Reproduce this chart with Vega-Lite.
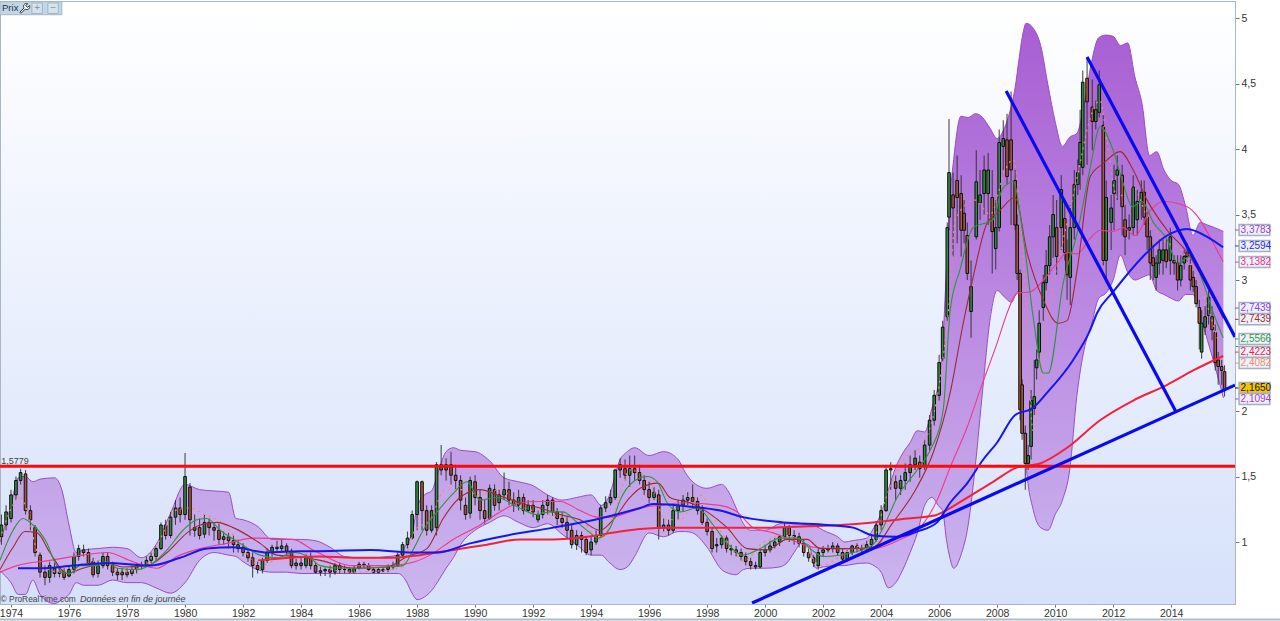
{"$schema":"https://vega.github.io/schema/vega-lite/v6.json","width":1235,"height":603,"autosize":"none","padding":{"left":0,"top":1,"right":45,"bottom":17},"background":"#ffffff","view":{"stroke":"#a9b6c4","strokeWidth":1,"fill":{"gradient":"linear","x1":0,"y1":0,"x2":0,"y2":1,"stops":[{"offset":0,"color":"#ffffff"},{"offset":1,"color":"#d6e1fa"}]}},
"datasets":{
"band":[{"t":1973.62,"up":1.0,"lo":0.78},{"t":1974,"up":1.28,"lo":0.69},{"t":1974.25,"up":1.49,"lo":0.60},{"t":1974.5,"up":1.50,"lo":0.60},{"t":1974.75,"up":1.46,"lo":0.71},{"t":1975,"up":1.48,"lo":0.60},{"t":1975.5,"up":1.49,"lo":0.53},{"t":1975.75,"up":1.40,"lo":0.56},{"t":1976,"up":1.13,"lo":0.60},{"t":1976.25,"up":0.92,"lo":0.69},{"t":1976.5,"up":0.94,"lo":0.67},{"t":1977,"up":0.95,"lo":0.67},{"t":1977.5,"up":0.96,"lo":0.71},{"t":1978,"up":0.95,"lo":0.69},{"t":1978.5,"up":0.88,"lo":0.69},{"t":1979,"up":0.98,"lo":0.65},{"t":1979.5,"up":1.22,"lo":0.61},{"t":1980,"up":1.44,"lo":0.69},{"t":1980.5,"up":1.40,"lo":0.86},{"t":1981,"up":1.39,"lo":0.92},{"t":1981.5,"up":1.38,"lo":0.90},{"t":1981.75,"up":1.18,"lo":0.89},{"t":1982,"up":1.17,"lo":0.85},{"t":1982.5,"up":1.12,"lo":0.79},{"t":1983,"up":1.02,"lo":0.77},{"t":1983.5,"up":1.02,"lo":0.77},{"t":1984,"up":1.02,"lo":0.76},{"t":1984.5,"up":1.01,"lo":0.76},{"t":1985,"up":0.96,"lo":0.76},{"t":1985.5,"up":0.89,"lo":0.76},{"t":1986,"up":0.88,"lo":0.76},{"t":1986.5,"up":0.88,"lo":0.76},{"t":1987,"up":0.89,"lo":0.76},{"t":1987.35,"up":0.90,"lo":0.76},{"t":1987.6,"up":0.97,"lo":0.71},{"t":1987.85,"up":1.09,"lo":0.60},{"t":1988,"up":1.26,"lo":0.56},{"t":1988.25,"up":1.36,"lo":0.58},{"t":1988.5,"up":1.39,"lo":0.63},{"t":1988.75,"up":1.55,"lo":0.71},{"t":1989,"up":1.69,"lo":0.80},{"t":1989.25,"up":1.72,"lo":0.88},{"t":1989.5,"up":1.70,"lo":0.98},{"t":1990,"up":1.69,"lo":1.09},{"t":1990.5,"up":1.62,"lo":1.15},{"t":1991,"up":1.49,"lo":1.20},{"t":1991.5,"up":1.46,"lo":1.15},{"t":1992,"up":1.43,"lo":1.11},{"t":1992.5,"up":1.36,"lo":1.14},{"t":1993,"up":1.32,"lo":1.06},{"t":1993.5,"up":1.34,"lo":0.98},{"t":1994,"up":1.36,"lo":0.90},{"t":1994.35,"up":1.28,"lo":0.90},{"t":1994.6,"up":1.34,"lo":0.85},{"t":1995,"up":1.63,"lo":0.79},{"t":1995.25,"up":1.69,"lo":0.81},{"t":1995.5,"up":1.72,"lo":0.89},{"t":1996,"up":1.66,"lo":1.07},{"t":1996.5,"up":1.69,"lo":1.04},{"t":1997,"up":1.63,"lo":1.08},{"t":1997.25,"up":1.53,"lo":1.08},{"t":1997.5,"up":1.46,"lo":1.07},{"t":1998,"up":1.41,"lo":0.96},{"t":1998.5,"up":1.44,"lo":0.79},{"t":1998.75,"up":1.38,"lo":0.76},{"t":1999,"up":1.26,"lo":0.75},{"t":1999.25,"up":1.14,"lo":0.79},{"t":1999.5,"up":1.09,"lo":0.80},{"t":2000,"up":1.09,"lo":0.80},{"t":2000.5,"up":1.14,"lo":0.81},{"t":2000.75,"up":1.15,"lo":0.84},{"t":2001,"up":1.15,"lo":0.92},{"t":2001.25,"up":1.14,"lo":0.99},{"t":2001.5,"up":1.13,"lo":0.98},{"t":2001.75,"up":1.12,"lo":0.80},{"t":2002,"up":1.09,"lo":0.81},{"t":2002.5,"up":1.04,"lo":0.82},{"t":2002.75,"up":1.00,"lo":0.82},{"t":2003,"up":1.01,"lo":0.83},{"t":2003.5,"up":1.03,"lo":0.84},{"t":2003.75,"up":1.11,"lo":0.82},{"t":2004,"up":1.22,"lo":0.77},{"t":2004.25,"up":1.40,"lo":0.65},{"t":2004.5,"up":1.57,"lo":0.69},{"t":2004.75,"up":1.68,"lo":0.79},{"t":2005,"up":1.76,"lo":0.92},{"t":2005.25,"up":1.85,"lo":1.07},{"t":2005.5,"up":1.84,"lo":1.28},{"t":2005.75,"up":2.02,"lo":1.34},{"t":2006,"up":2.25,"lo":1.27},{"t":2006.12,"up":2.50,"lo":1.24},{"t":2006.25,"up":3.08,"lo":1.02},{"t":2006.37,"up":3.61,"lo":0.88},{"t":2006.5,"up":3.92,"lo":0.80},{"t":2006.75,"up":4.25,"lo":0.90},{"t":2007,"up":4.24,"lo":1.13},{"t":2007.25,"up":4.27,"lo":1.59},{"t":2007.5,"up":4.24,"lo":2.16},{"t":2007.75,"up":4.16,"lo":2.69},{"t":2008,"up":4.08,"lo":2.92},{"t":2008.25,"up":4.16,"lo":2.87},{"t":2008.5,"up":4.34,"lo":2.83},{"t":2008.62,"up":4.47,"lo":2.88},{"t":2008.75,"up":4.68,"lo":2.92},{"t":2008.87,"up":4.86,"lo":2.08},{"t":2009,"up":4.96,"lo":1.59},{"t":2009.25,"up":4.92,"lo":1.24},{"t":2009.5,"up":4.79,"lo":1.11},{"t":2009.75,"up":4.49,"lo":1.09},{"t":2010,"up":4.21,"lo":1.21},{"t":2010.25,"up":4.02,"lo":1.32},{"t":2010.5,"up":4.09,"lo":1.55},{"t":2010.75,"up":4.12,"lo":2.12},{"t":2011,"up":4.34,"lo":2.47},{"t":2011.25,"up":4.66,"lo":2.66},{"t":2011.5,"up":4.85,"lo":2.86},{"t":2011.75,"up":4.87,"lo":2.90},{"t":2012,"up":4.86,"lo":3.00},{"t":2012.25,"up":4.79,"lo":3.19},{"t":2012.5,"up":4.81,"lo":3.06},{"t":2012.75,"up":4.55,"lo":3.00},{"t":2013,"up":4.34,"lo":3.02},{"t":2013.25,"up":3.95,"lo":3.04},{"t":2013.5,"up":3.98,"lo":2.92},{"t":2013.75,"up":3.84,"lo":2.89},{"t":2014,"up":3.76,"lo":2.86},{"t":2014.25,"up":3.73,"lo":2.84},{"t":2014.5,"up":3.56,"lo":2.89},{"t":2014.75,"up":3.34,"lo":2.89},{"t":2015,"up":3.44,"lo":2.73},{"t":2015.25,"up":3.42,"lo":2.54},{"t":2015.5,"up":3.40,"lo":2.35},{"t":2015.8,"up":3.37,"lo":2.10}],
"candles":[{"t":1973.67,"o":1.04,"c":1.13,"h":1.21,"l":0.98},{"t":1973.83,"o":1.13,"c":1.23,"h":1.28,"l":1.09},{"t":1974,"o":1.18,"c":1.36,"h":1.40,"l":1.15},{"t":1974.17,"o":1.36,"c":1.47,"h":1.50,"l":1.32},{"t":1974.33,"o":1.47,"c":1.53,"h":1.56,"l":1.44},{"t":1974.5,"o":1.52,"c":1.24,"h":1.55,"l":1.21},{"t":1974.67,"o":1.24,"c":1.17,"h":1.28,"l":1.09},{"t":1974.83,"o":1.11,"c":0.92,"h":1.13,"l":0.89},{"t":1975,"o":0.90,"c":0.77,"h":0.92,"l":0.73},{"t":1975.17,"o":0.77,"c":0.73,"h":0.82,"l":0.67},{"t":1975.33,"o":0.73,"c":0.82,"h":0.85,"l":0.69},{"t":1975.5,"o":0.80,"c":0.76,"h":0.84,"l":0.73},{"t":1975.67,"o":0.76,"c":0.77,"h":0.80,"l":0.73},{"t":1975.83,"o":0.77,"c":0.73,"h":0.80,"l":0.71},{"t":1976,"o":0.74,"c":0.79,"h":0.82,"l":0.73},{"t":1976.17,"o":0.79,"c":0.89,"h":0.92,"l":0.76},{"t":1976.33,"o":0.89,"c":0.95,"h":0.98,"l":0.86},{"t":1976.5,"o":0.94,"c":0.92,"h":0.98,"l":0.89},{"t":1976.67,"o":0.92,"c":0.84,"h":0.95,"l":0.82},{"t":1976.83,"o":0.85,"c":0.75,"h":0.88,"l":0.73},{"t":1977,"o":0.76,"c":0.82,"h":0.86,"l":0.73},{"t":1977.17,"o":0.82,"c":0.89,"h":0.92,"l":0.80},{"t":1977.33,"o":0.89,"c":0.82,"h":0.92,"l":0.79},{"t":1977.5,"o":0.82,"c":0.77,"h":0.85,"l":0.74},{"t":1977.67,"o":0.77,"c":0.75,"h":0.80,"l":0.71},{"t":1977.83,"o":0.75,"c":0.77,"h":0.80,"l":0.71},{"t":1978,"o":0.77,"c":0.75,"h":0.80,"l":0.73},{"t":1978.17,"o":0.76,"c":0.79,"h":0.82,"l":0.74},{"t":1978.33,"o":0.79,"c":0.82,"h":0.84,"l":0.76},{"t":1978.5,"o":0.82,"c":0.82,"h":0.85,"l":0.79},{"t":1978.67,"o":0.82,"c":0.86,"h":0.89,"l":0.81},{"t":1978.83,"o":0.86,"c":0.89,"h":0.92,"l":0.84},{"t":1979,"o":0.89,"c":0.95,"h":0.97,"l":0.86},{"t":1979.17,"o":0.95,"c":1.13,"h":1.15,"l":0.94},{"t":1979.33,"o":1.13,"c":1.05,"h":1.17,"l":1.02},{"t":1979.5,"o":1.05,"c":1.19,"h":1.23,"l":1.03},{"t":1979.67,"o":1.19,"c":1.26,"h":1.32,"l":1.13},{"t":1979.83,"o":1.26,"c":1.21,"h":1.34,"l":1.15},{"t":1980,"o":1.21,"c":1.50,"h":1.68,"l":1.17},{"t":1980.17,"o":1.42,"c":1.17,"h":1.45,"l":1.05},{"t":1980.33,"o":1.09,"c":1.11,"h":1.21,"l":1.04},{"t":1980.5,"o":1.11,"c":1.05,"h":1.18,"l":1.02},{"t":1980.67,"o":1.06,"c":1.15,"h":1.21,"l":1.03},{"t":1980.83,"o":1.15,"c":1.11,"h":1.18,"l":1.05},{"t":1981,"o":1.11,"c":1.09,"h":1.15,"l":1.01},{"t":1981.17,"o":1.09,"c":1.02,"h":1.14,"l":0.98},{"t":1981.33,"o":1.02,"c":1.04,"h":1.08,"l":0.98},{"t":1981.5,"o":1.04,"c":1.01,"h":1.07,"l":0.95},{"t":1981.67,"o":1.01,"c":0.98,"h":1.05,"l":0.92},{"t":1981.83,"o":0.98,"c":0.95,"h":1.02,"l":0.92},{"t":1982,"o":0.96,"c":0.92,"h":0.99,"l":0.89},{"t":1982.17,"o":0.92,"c":0.88,"h":0.95,"l":0.85},{"t":1982.33,"o":0.88,"c":0.82,"h":0.92,"l":0.73},{"t":1982.5,"o":0.82,"c":0.79,"h":0.85,"l":0.76},{"t":1982.67,"o":0.79,"c":0.86,"h":0.88,"l":0.76},{"t":1982.83,"o":0.86,"c":0.92,"h":0.95,"l":0.84},{"t":1983,"o":0.92,"c":0.96,"h":0.98,"l":0.89},{"t":1983.17,"o":0.96,"c":0.95,"h":1.01,"l":0.92},{"t":1983.33,"o":0.95,"c":0.97,"h":1.02,"l":0.92},{"t":1983.5,"o":0.97,"c":0.93,"h":0.99,"l":0.90},{"t":1983.67,"o":0.93,"c":0.82,"h":0.95,"l":0.80},{"t":1983.83,"o":0.82,"c":0.84,"h":0.87,"l":0.79},{"t":1984,"o":0.84,"c":0.82,"h":0.88,"l":0.79},{"t":1984.17,"o":0.82,"c":0.89,"h":0.91,"l":0.80},{"t":1984.33,"o":0.89,"c":0.82,"h":0.92,"l":0.79},{"t":1984.5,"o":0.82,"c":0.77,"h":0.85,"l":0.76},{"t":1984.67,"o":0.77,"c":0.78,"h":0.81,"l":0.74},{"t":1984.83,"o":0.78,"c":0.79,"h":0.81,"l":0.74},{"t":1985,"o":0.79,"c":0.77,"h":0.82,"l":0.73},{"t":1985.17,"o":0.77,"c":0.82,"h":0.84,"l":0.75},{"t":1985.33,"o":0.82,"c":0.79,"h":0.84,"l":0.76},{"t":1985.5,"o":0.79,"c":0.79,"h":0.82,"l":0.76},{"t":1985.67,"o":0.79,"c":0.77,"h":0.81,"l":0.76},{"t":1985.83,"o":0.77,"c":0.80,"h":0.82,"l":0.76},{"t":1986,"o":0.80,"c":0.83,"h":0.85,"l":0.79},{"t":1986.17,"o":0.83,"c":0.82,"h":0.85,"l":0.80},{"t":1986.33,"o":0.82,"c":0.79,"h":0.84,"l":0.78},{"t":1986.5,"o":0.79,"c":0.77,"h":0.81,"l":0.76},{"t":1986.67,"o":0.77,"c":0.79,"h":0.81,"l":0.76},{"t":1986.83,"o":0.79,"c":0.78,"h":0.81,"l":0.77},{"t":1987,"o":0.79,"c":0.81,"h":0.83,"l":0.77},{"t":1987.17,"o":0.81,"c":0.82,"h":0.85,"l":0.79},{"t":1987.33,"o":0.82,"c":0.90,"h":0.92,"l":0.81},{"t":1987.5,"o":0.90,"c":0.98,"h":1.00,"l":0.89},{"t":1987.67,"o":0.98,"c":1.03,"h":1.08,"l":0.95},{"t":1987.83,"o":1.03,"c":1.21,"h":1.24,"l":1.02},{"t":1988,"o":1.21,"c":1.46,"h":1.47,"l":1.09},{"t":1988.17,"o":1.46,"c":1.24,"h":1.47,"l":1.09},{"t":1988.33,"o":1.24,"c":1.09,"h":1.28,"l":1.05},{"t":1988.5,"o":1.09,"c":1.24,"h":1.28,"l":1.07},{"t":1988.67,"o":1.11,"c":1.59,"h":1.61,"l":1.05},{"t":1988.83,"o":1.59,"c":1.55,"h":1.74,"l":1.51},{"t":1989,"o":1.55,"c":1.59,"h":1.64,"l":1.47},{"t":1989.17,"o":1.59,"c":1.51,"h":1.69,"l":1.44},{"t":1989.33,"o":1.51,"c":1.47,"h":1.59,"l":1.40},{"t":1989.5,"o":1.47,"c":1.32,"h":1.51,"l":1.24},{"t":1989.67,"o":1.28,"c":1.21,"h":1.34,"l":1.17},{"t":1989.83,"o":1.22,"c":1.47,"h":1.50,"l":1.18},{"t":1990,"o":1.46,"c":1.34,"h":1.51,"l":1.28},{"t":1990.17,"o":1.34,"c":1.24,"h":1.40,"l":1.17},{"t":1990.33,"o":1.24,"c":1.18,"h":1.32,"l":1.14},{"t":1990.5,"o":1.18,"c":1.41,"h":1.44,"l":1.17},{"t":1990.67,"o":1.40,"c":1.28,"h":1.44,"l":1.24},{"t":1990.83,"o":1.30,"c":1.36,"h":1.40,"l":1.24},{"t":1991,"o":1.36,"c":1.40,"h":1.53,"l":1.32},{"t":1991.17,"o":1.40,"c":1.32,"h":1.46,"l":1.28},{"t":1991.33,"o":1.32,"c":1.28,"h":1.38,"l":1.23},{"t":1991.5,"o":1.28,"c":1.34,"h":1.40,"l":1.24},{"t":1991.67,"o":1.34,"c":1.24,"h":1.37,"l":1.21},{"t":1991.83,"o":1.24,"c":1.28,"h":1.32,"l":1.23},{"t":1992,"o":1.28,"c":1.23,"h":1.32,"l":1.19},{"t":1992.17,"o":1.17,"c":1.21,"h":1.24,"l":1.15},{"t":1992.33,"o":1.21,"c":1.28,"h":1.32,"l":1.18},{"t":1992.5,"o":1.28,"c":1.32,"h":1.36,"l":1.21},{"t":1992.67,"o":1.32,"c":1.23,"h":1.34,"l":1.20},{"t":1992.83,"o":1.23,"c":1.18,"h":1.26,"l":1.13},{"t":1993,"o":1.18,"c":1.15,"h":1.23,"l":1.11},{"t":1993.17,"o":1.15,"c":1.09,"h":1.20,"l":1.02},{"t":1993.33,"o":1.09,"c":0.98,"h":1.13,"l":0.95},{"t":1993.5,"o":0.98,"c":1.05,"h":1.09,"l":0.94},{"t":1993.67,"o":1.05,"c":1.02,"h":1.08,"l":0.92},{"t":1993.83,"o":1.02,"c":0.92,"h":1.04,"l":0.90},{"t":1994,"o":0.94,"c":1.00,"h":1.05,"l":0.90},{"t":1994.17,"o":1.00,"c":1.05,"h":1.09,"l":0.98},{"t":1994.33,"o":1.05,"c":1.26,"h":1.28,"l":1.04},{"t":1994.5,"o":1.26,"c":1.30,"h":1.35,"l":1.23},{"t":1994.67,"o":1.30,"c":1.34,"h":1.40,"l":1.28},{"t":1994.83,"o":1.34,"c":1.55,"h":1.56,"l":1.32},{"t":1995,"o":1.55,"c":1.59,"h":1.64,"l":1.49},{"t":1995.17,"o":1.56,"c":1.51,"h":1.63,"l":1.47},{"t":1995.33,"o":1.51,"c":1.56,"h":1.66,"l":1.42},{"t":1995.5,"o":1.56,"c":1.53,"h":1.66,"l":1.47},{"t":1995.67,"o":1.53,"c":1.47,"h":1.59,"l":1.44},{"t":1995.83,"o":1.47,"c":1.40,"h":1.51,"l":1.36},{"t":1996,"o":1.40,"c":1.34,"h":1.46,"l":1.30},{"t":1996.17,"o":1.34,"c":1.38,"h":1.42,"l":1.32},{"t":1996.33,"o":1.36,"c":1.11,"h":1.40,"l":1.02},{"t":1996.5,"o":1.11,"c":1.13,"h":1.18,"l":1.08},{"t":1996.67,"o":1.13,"c":1.09,"h":1.17,"l":1.05},{"t":1996.83,"o":1.09,"c":1.24,"h":1.28,"l":1.07},{"t":1997,"o":1.24,"c":1.28,"h":1.32,"l":1.17},{"t":1997.17,"o":1.28,"c":1.32,"h":1.36,"l":1.23},{"t":1997.33,"o":1.32,"c":1.34,"h":1.38,"l":1.28},{"t":1997.5,"o":1.34,"c":1.31,"h":1.44,"l":1.26},{"t":1997.67,"o":1.31,"c":1.24,"h":1.34,"l":1.21},{"t":1997.83,"o":1.24,"c":1.15,"h":1.28,"l":1.13},{"t":1998,"o":1.15,"c":1.08,"h":1.18,"l":1.05},{"t":1998.17,"o":1.08,"c":0.95,"h":1.11,"l":0.92},{"t":1998.33,"o":0.97,"c":0.98,"h":1.03,"l":0.92},{"t":1998.5,"o":0.98,"c":1.03,"h":1.05,"l":0.95},{"t":1998.67,"o":1.03,"c":0.95,"h":1.05,"l":0.92},{"t":1998.83,"o":0.95,"c":0.94,"h":0.98,"l":0.90},{"t":1999,"o":0.94,"c":0.92,"h":0.97,"l":0.89},{"t":1999.17,"o":0.92,"c":0.89,"h":0.95,"l":0.86},{"t":1999.33,"o":0.89,"c":0.85,"h":0.92,"l":0.82},{"t":1999.5,"o":0.85,"c":0.82,"h":0.88,"l":0.79},{"t":1999.67,"o":0.82,"c":0.81,"h":0.85,"l":0.79},{"t":1999.83,"o":0.81,"c":0.92,"h":0.94,"l":0.80},{"t":2000,"o":0.92,"c":0.94,"h":0.98,"l":0.89},{"t":2000.17,"o":0.94,"c":0.97,"h":1.01,"l":0.92},{"t":2000.33,"o":0.97,"c":1.00,"h":1.03,"l":0.95},{"t":2000.5,"o":1.00,"c":1.04,"h":1.05,"l":0.97},{"t":2000.67,"o":1.04,"c":1.11,"h":1.15,"l":1.02},{"t":2000.83,"o":1.11,"c":1.05,"h":1.13,"l":1.00},{"t":2001,"o":1.05,"c":1.04,"h":1.09,"l":0.98},{"t":2001.17,"o":1.04,"c":0.99,"h":1.07,"l":0.96},{"t":2001.33,"o":0.99,"c":0.92,"h":1.02,"l":0.89},{"t":2001.5,"o":0.92,"c":0.88,"h":0.95,"l":0.85},{"t":2001.67,"o":0.88,"c":0.84,"h":0.90,"l":0.81},{"t":2001.83,"o":0.82,"c":0.92,"h":0.95,"l":0.79},{"t":2002,"o":0.92,"c":0.94,"h":0.97,"l":0.89},{"t":2002.17,"o":0.94,"c":0.95,"h":0.98,"l":0.92},{"t":2002.33,"o":0.95,"c":0.97,"h":1.00,"l":0.92},{"t":2002.5,"o":0.97,"c":0.92,"h":0.99,"l":0.90},{"t":2002.67,"o":0.92,"c":0.87,"h":0.95,"l":0.85},{"t":2002.83,"o":0.87,"c":0.92,"h":0.94,"l":0.85},{"t":2003,"o":0.92,"c":0.97,"h":0.98,"l":0.90},{"t":2003.17,"o":0.97,"c":0.95,"h":0.99,"l":0.92},{"t":2003.33,"o":0.95,"c":0.94,"h":0.98,"l":0.92},{"t":2003.5,"o":0.95,"c":0.98,"h":1.01,"l":0.92},{"t":2003.67,"o":0.98,"c":1.02,"h":1.05,"l":0.96},{"t":2003.83,"o":1.02,"c":1.13,"h":1.15,"l":1.00},{"t":2004,"o":1.13,"c":1.24,"h":1.28,"l":1.09},{"t":2004.17,"o":1.24,"c":1.55,"h":1.57,"l":1.23},{"t":2004.33,"o":1.55,"c":1.56,"h":1.61,"l":1.40},{"t":2004.5,"o":1.46,"c":1.41,"h":1.51,"l":1.32},{"t":2004.67,"o":1.41,"c":1.47,"h":1.51,"l":1.36},{"t":2004.83,"o":1.47,"c":1.53,"h":1.60,"l":1.40},{"t":2005,"o":1.53,"c":1.59,"h":1.66,"l":1.46},{"t":2005.17,"o":1.59,"c":1.64,"h":1.70,"l":1.55},{"t":2005.33,"o":1.61,"c":1.56,"h":1.66,"l":1.49},{"t":2005.5,"o":1.58,"c":1.74,"h":1.78,"l":1.55},{"t":2005.67,"o":1.74,"c":1.93,"h":1.97,"l":1.70},{"t":2005.83,"o":1.93,"c":2.12,"h":2.16,"l":1.89},{"t":2006,"o":2.12,"c":2.37,"h":2.43,"l":2.08},{"t":2006.12,"o":2.40,"c":2.64,"h":2.69,"l":2.38},{"t":2006.28,"o":2.72,"c":3.40,"h":3.44,"l":2.69},{"t":2006.34,"o":3.48,"c":3.82,"h":4.23,"l":3.38},{"t":2006.48,"o":3.65,"c":3.55,"h":3.82,"l":3.18},{"t":2006.62,"o":3.76,"c":3.63,"h":3.95,"l":3.28},{"t":2006.76,"o":3.66,"c":3.38,"h":3.80,"l":3.18},{"t":2006.86,"o":3.51,"c":3.38,"h":3.61,"l":3.28},{"t":2006.97,"o":3.34,"c":3.05,"h":3.44,"l":3.00},{"t":2007.1,"o":2.76,"c":2.95,"h":3.15,"l":2.56},{"t":2007.28,"o":3.33,"c":3.75,"h":3.99,"l":3.31},{"t":2007.41,"o":3.59,"c":3.65,"h":3.84,"l":3.46},{"t":2007.55,"o":3.66,"c":3.84,"h":3.95,"l":3.50},{"t":2007.69,"o":3.66,"c":3.84,"h":3.97,"l":3.42},{"t":2007.83,"o":3.63,"c":3.37,"h":3.84,"l":3.05},{"t":2007.95,"o":3.24,"c":3.40,"h":3.61,"l":3.08},{"t":2008.07,"o":3.40,"c":4.05,"h":4.15,"l":3.37},{"t":2008.21,"o":4.02,"c":4.08,"h":4.22,"l":3.84},{"t":2008.34,"o":4.07,"c":3.79,"h":4.27,"l":3.73},{"t":2008.48,"o":4.07,"c":3.84,"h":4.44,"l":3.42},{"t":2008.62,"o":3.76,"c":3.42,"h":3.84,"l":3.38},{"t":2008.69,"o":3.42,"c":3.05,"h":3.50,"l":3.00},{"t":2008.79,"o":3.05,"c":2.01,"h":3.08,"l":1.93},{"t":2008.86,"o":2.20,"c":1.83,"h":2.24,"l":1.78},{"t":2008.97,"o":1.83,"c":1.60,"h":1.89,"l":1.40},{"t":2009.07,"o":1.60,"c":1.66,"h":1.74,"l":1.55},{"t":2009.17,"o":1.73,"c":2.08,"h":2.16,"l":1.63},{"t":2009.28,"o":2.02,"c":2.11,"h":2.39,"l":1.97},{"t":2009.36,"o":2.33,"c":2.39,"h":2.47,"l":2.24},{"t":2009.45,"o":2.45,"c":2.67,"h":2.77,"l":2.40},{"t":2009.59,"o":2.79,"c":2.98,"h":3.04,"l":2.69},{"t":2009.69,"o":2.98,"c":3.11,"h":3.23,"l":2.92},{"t":2009.81,"o":3.11,"c":3.33,"h":3.42,"l":3.04},{"t":2009.93,"o":3.33,"c":3.50,"h":3.65,"l":3.17},{"t":2010.05,"o":3.40,"c":3.18,"h":3.61,"l":3.04},{"t":2010.21,"o":3.40,"c":3.69,"h":3.80,"l":3.23},{"t":2010.33,"o":3.47,"c":3.21,"h":3.61,"l":3.15},{"t":2010.41,"o":3.21,"c":3.04,"h":3.31,"l":2.85},{"t":2010.52,"o":3.02,"c":3.40,"h":3.57,"l":2.81},{"t":2010.66,"o":3.40,"c":3.73,"h":3.84,"l":3.31},{"t":2010.78,"o":3.73,"c":3.82,"h":3.92,"l":3.65},{"t":2010.86,"o":3.88,"c":4.05,"h":4.30,"l":3.69},{"t":2010.95,"o":3.86,"c":4.51,"h":4.60,"l":3.80},{"t":2011.10,"o":4.54,"c":4.36,"h":4.70,"l":3.88},{"t":2011.28,"o":4.32,"c":4.21,"h":4.53,"l":3.99},{"t":2011.40,"o":4.21,"c":4.30,"h":4.37,"l":4.15},{"t":2011.52,"o":4.28,"c":4.49,"h":4.60,"l":4.24},{"t":2011.66,"o":4.18,"c":3.15,"h":4.26,"l":3.11},{"t":2011.76,"o":3.15,"c":3.63,"h":3.76,"l":2.98},{"t":2011.93,"o":3.44,"c":3.55,"h":3.65,"l":3.23},{"t":2012.03,"o":3.66,"c":3.76,"h":3.88,"l":3.38},{"t":2012.14,"o":3.80,"c":3.84,"h":3.95,"l":3.61},{"t":2012.31,"o":3.80,"c":3.56,"h":3.88,"l":3.34},{"t":2012.41,"o":3.46,"c":3.33,"h":3.57,"l":3.19},{"t":2012.55,"o":3.38,"c":3.40,"h":3.50,"l":3.31},{"t":2012.69,"o":3.40,"c":3.71,"h":3.80,"l":3.34},{"t":2012.83,"o":3.46,"c":3.60,"h":3.69,"l":3.34},{"t":2012.97,"o":3.60,"c":3.67,"h":3.76,"l":3.46},{"t":2013.07,"o":3.67,"c":3.48,"h":3.76,"l":3.42},{"t":2013.17,"o":3.48,"c":3.33,"h":3.52,"l":3.23},{"t":2013.28,"o":3.33,"c":3.13,"h":3.38,"l":3.00},{"t":2013.38,"o":3.17,"c":3.11,"h":3.27,"l":3.00},{"t":2013.48,"o":3.02,"c":3.13,"h":3.19,"l":2.92},{"t":2013.59,"o":3.13,"c":3.23,"h":3.31,"l":3.04},{"t":2013.72,"o":3.15,"c":3.23,"h":3.31,"l":3.04},{"t":2013.83,"o":3.23,"c":3.14,"h":3.31,"l":3.09},{"t":2013.97,"o":3.15,"c":3.33,"h":3.40,"l":3.04},{"t":2014.1,"o":3.15,"c":3.13,"h":3.19,"l":3.04},{"t":2014.22,"o":3.13,"c":3.00,"h":3.19,"l":2.92},{"t":2014.33,"o":3.00,"c":3.11,"h":3.19,"l":2.95},{"t":2014.45,"o":3.13,"c":3.18,"h":3.23,"l":3.08},{"t":2014.55,"o":3.21,"c":3.18,"h":3.28,"l":3.14},{"t":2014.66,"o":3.11,"c":3.00,"h":3.16,"l":2.92},{"t":2014.76,"o":3.02,"c":2.95,"h":3.08,"l":2.91},{"t":2014.86,"o":2.95,"c":2.82,"h":3.00,"l":2.79},{"t":2014.97,"o":2.79,"c":2.67,"h":2.85,"l":2.47},{"t":2015.05,"o":2.45,"c":2.67,"h":2.77,"l":2.40},{"t":2015.17,"o":2.64,"c":2.72,"h":2.80,"l":2.58},{"t":2015.29,"o":2.73,"c":2.87,"h":2.92,"l":2.66},{"t":2015.41,"o":2.72,"c":2.62,"h":2.80,"l":2.54},{"t":2015.52,"o":2.60,"c":2.37,"h":2.66,"l":2.31},{"t":2015.62,"o":2.39,"c":2.34,"h":2.45,"l":2.20},{"t":2015.74,"o":2.34,"c":2.31,"h":2.39,"l":2.20},{"t":2015.84,"o":2.30,"c":2.165,"h":2.35,"l":2.11}],
"green":[{"t":1973.62,"v":0.86},{"t":1974.07,"v":1.09},{"t":1974.41,"v":1.18},{"t":1974.76,"v":1.13},{"t":1975.24,"v":0.99},{"t":1975.52,"v":0.84},{"t":1975.76,"v":0.77},{"t":1976.03,"v":0.76},{"t":1976.38,"v":0.82},{"t":1976.97,"v":0.82},{"t":1977.31,"v":0.85},{"t":1977.66,"v":0.80},{"t":1978.34,"v":0.79},{"t":1978.9,"v":0.84},{"t":1979.38,"v":0.94},{"t":1979.93,"v":1.09},{"t":1980.41,"v":1.17},{"t":1980.76,"v":1.18},{"t":1981.21,"v":1.09},{"t":1981.9,"v":0.99},{"t":1982.59,"v":0.90},{"t":1983.17,"v":0.88},{"t":1983.72,"v":0.92},{"t":1984.31,"v":0.88},{"t":1984.66,"v":0.82},{"t":1985.34,"v":0.80},{"t":1986.97,"v":0.81},{"t":1987.52,"v":0.82},{"t":1987.86,"v":0.94},{"t":1988.21,"v":1.09},{"t":1988.69,"v":1.23},{"t":1989.24,"v":1.37},{"t":1989.72,"v":1.46},{"t":1990.17,"v":1.32},{"t":1990.76,"v":1.34},{"t":1991.45,"v":1.27},{"t":1992.14,"v":1.21},{"t":1992.59,"v":1.23},{"t":1993.03,"v":1.23},{"t":1993.52,"v":1.15},{"t":1993.97,"v":1.07},{"t":1994.24,"v":1.03},{"t":1994.66,"v":1.11},{"t":1995,"v":1.32},{"t":1995.45,"v":1.46},{"t":1995.93,"v":1.50},{"t":1996.28,"v":1.46},{"t":1996.62,"v":1.30},{"t":1997.07,"v":1.23},{"t":1997.66,"v":1.26},{"t":1998.21,"v":1.13},{"t":1998.69,"v":0.99},{"t":1999.24,"v":0.90},{"t":1999.83,"v":0.95},{"t":2000.52,"v":1.03},{"t":2001.1,"v":1.03},{"t":2001.55,"v":0.95},{"t":2002,"v":0.89},{"t":2003.03,"v":0.92},{"t":2003.72,"v":0.98},{"t":2004.07,"v":1.11},{"t":2004.55,"v":1.34},{"t":2005.24,"v":1.55},{"t":2005.69,"v":1.70},{"t":2006.14,"v":2.01},{"t":2006.38,"v":2.77},{"t":2006.72,"v":3.08},{"t":2007.17,"v":3.40},{"t":2007.86,"v":3.46},{"t":2008.17,"v":3.69},{"t":2008.55,"v":3.75},{"t":2008.9,"v":3.33},{"t":2009.24,"v":2.72},{"t":2009.59,"v":2.29},{"t":2009.76,"v":2.29},{"t":2010.28,"v":2.98},{"t":2010.76,"v":3.36},{"t":2011.21,"v":3.86},{"t":2011.55,"v":4.17},{"t":2012,"v":3.99},{"t":2012.34,"v":3.74},{"t":2012.66,"v":3.56},{"t":2013,"v":3.60},{"t":2013.38,"v":3.44},{"t":2013.86,"v":3.31},{"t":2014.21,"v":3.13},{"t":2014.66,"v":3.18},{"t":2015.1,"v":2.98},{"t":2015.45,"v":2.75},{"t":2015.79,"v":2.56}],
"darkred":[{"t":1973.62,"v":0.79},{"t":1974.07,"v":0.96},{"t":1974.48,"v":1.08},{"t":1974.9,"v":1.07},{"t":1975.34,"v":0.92},{"t":1975.93,"v":0.76},{"t":1976.48,"v":0.80},{"t":1977.31,"v":0.84},{"t":1977.86,"v":0.81},{"t":1978.69,"v":0.82},{"t":1979.38,"v":0.92},{"t":1980.07,"v":1.07},{"t":1980.52,"v":1.13},{"t":1981.1,"v":1.15},{"t":1981.66,"v":1.11},{"t":1982.59,"v":0.99},{"t":1983.17,"v":0.90},{"t":1983.86,"v":0.89},{"t":1984.66,"v":0.86},{"t":1985.79,"v":0.80},{"t":1986.97,"v":0.81},{"t":1987.66,"v":0.89},{"t":1988.34,"v":0.95},{"t":1988.9,"v":1.18},{"t":1989.48,"v":1.34},{"t":1990.17,"v":1.40},{"t":1990.76,"v":1.36},{"t":1991.55,"v":1.30},{"t":1992.24,"v":1.26},{"t":1992.93,"v":1.21},{"t":1993.62,"v":1.17},{"t":1994.31,"v":1.09},{"t":1994.76,"v":1.17},{"t":1995.34,"v":1.34},{"t":1995.69,"v":1.41},{"t":1996.31,"v":1.45},{"t":1996.72,"v":1.34},{"t":1997.41,"v":1.30},{"t":1998,"v":1.23},{"t":1998.69,"v":1.11},{"t":1999.38,"v":0.95},{"t":2000.07,"v":0.94},{"t":2000.76,"v":1.02},{"t":2001.45,"v":1.02},{"t":2001.9,"v":0.95},{"t":2002.83,"v":0.95},{"t":2003.72,"v":0.96},{"t":2004.41,"v":1.15},{"t":2005.24,"v":1.42},{"t":2005.79,"v":1.68},{"t":2006.38,"v":2.14},{"t":2006.83,"v":2.67},{"t":2007.17,"v":3.02},{"t":2007.66,"v":3.44},{"t":2008,"v":3.51},{"t":2008.62,"v":3.63},{"t":2009.03,"v":3.21},{"t":2009.59,"v":2.85},{"t":2010.1,"v":2.67},{"t":2010.41,"v":2.69},{"t":2010.76,"v":3.08},{"t":2011.21,"v":3.79},{"t":2011.66,"v":3.89},{"t":2012.24,"v":3.98},{"t":2012.69,"v":3.84},{"t":2013.17,"v":3.61},{"t":2013.86,"v":3.38},{"t":2014.55,"v":3.21},{"t":2015.24,"v":2.95},{"t":2015.79,"v":2.71}],
"pink":[{"t":1973.62,"v":0.77},{"t":1974.21,"v":0.82},{"t":1975.34,"v":0.86},{"t":1976.48,"v":0.90},{"t":1977.31,"v":0.92},{"t":1978.21,"v":0.85},{"t":1979.03,"v":0.80},{"t":1979.72,"v":0.89},{"t":1980.52,"v":0.95},{"t":1981.45,"v":0.99},{"t":1982.34,"v":1.03},{"t":1983.72,"v":1.02},{"t":1984.41,"v":0.94},{"t":1985.79,"v":0.82},{"t":1986.97,"v":0.82},{"t":1987.76,"v":0.84},{"t":1988.45,"v":0.90},{"t":1989.24,"v":1.02},{"t":1990.17,"v":1.13},{"t":1990.86,"v":1.23},{"t":1991.55,"v":1.30},{"t":1992.24,"v":1.31},{"t":1992.93,"v":1.31},{"t":1993.62,"v":1.24},{"t":1994.21,"v":1.19},{"t":1994.66,"v":1.19},{"t":1995.34,"v":1.23},{"t":1995.93,"v":1.27},{"t":1996.38,"v":1.28},{"t":1997.17,"v":1.30},{"t":1998.45,"v":1.28},{"t":1999.03,"v":1.23},{"t":1999.59,"v":1.11},{"t":2000.28,"v":1.07},{"t":2000.86,"v":1.02},{"t":2001.66,"v":0.96},{"t":2002.59,"v":0.95},{"t":2003.72,"v":0.95},{"t":2004.66,"v":1.02},{"t":2005.34,"v":1.11},{"t":2005.93,"v":1.32},{"t":2006.38,"v":1.57},{"t":2006.97,"v":1.88},{"t":2007.41,"v":2.16},{"t":2008,"v":2.52},{"t":2008.38,"v":2.77},{"t":2008.69,"v":2.90},{"t":2009.14,"v":2.91},{"t":2009.59,"v":3.00},{"t":2010.07,"v":3.13},{"t":2010.41,"v":3.21},{"t":2010.76,"v":3.20},{"t":2011.21,"v":3.32},{"t":2011.55,"v":3.38},{"t":2012,"v":3.37},{"t":2012.34,"v":3.40},{"t":2012.76,"v":3.34},{"t":2013.28,"v":3.53},{"t":2013.72,"v":3.60},{"t":2014.55,"v":3.56},{"t":2014.93,"v":3.48},{"t":2015.45,"v":3.28},{"t":2015.79,"v":3.14}],
"blue":[{"t":1974.24,"v":0.80},{"t":1975,"v":0.80},{"t":1976.14,"v":0.82},{"t":1977.31,"v":0.84},{"t":1978.79,"v":0.82},{"t":1979.83,"v":0.88},{"t":1980.76,"v":0.95},{"t":1981.66,"v":0.96},{"t":1982.83,"v":0.92},{"t":1983.97,"v":0.93},{"t":1984.66,"v":0.93},{"t":1986.38,"v":0.94},{"t":1987.86,"v":0.92},{"t":1988.69,"v":0.92},{"t":1989.83,"v":0.99},{"t":1991.1,"v":1.05},{"t":1992.69,"v":1.11},{"t":1994.31,"v":1.18},{"t":1995.69,"v":1.26},{"t":1996.14,"v":1.29},{"t":1997.41,"v":1.27},{"t":1998.45,"v":1.24},{"t":1999.24,"v":1.19},{"t":2000.62,"v":1.15},{"t":2002.14,"v":1.13},{"t":2003.03,"v":1.11},{"t":2003.72,"v":1.05},{"t":2004.55,"v":1.04},{"t":2005.24,"v":1.08},{"t":2005.93,"v":1.15},{"t":2006.38,"v":1.30},{"t":2006.97,"v":1.45},{"t":2007.52,"v":1.63},{"t":2008,"v":1.76},{"t":2008.62,"v":1.97},{"t":2009.21,"v":2.02},{"t":2009.72,"v":2.14},{"t":2010.62,"v":2.39},{"t":2011.21,"v":2.62},{"t":2011.45,"v":2.75},{"t":2012,"v":2.91},{"t":2013.03,"v":3.18},{"t":2013.86,"v":3.34},{"t":2014.55,"v":3.39},{"t":2015.24,"v":3.33},{"t":2015.79,"v":3.25}],
"red":[{"t":1982.52,"v":0.86},{"t":1984.66,"v":0.89},{"t":1985.79,"v":0.88},{"t":1987.17,"v":0.88},{"t":1988.1,"v":0.90},{"t":1989.24,"v":0.94},{"t":1990.41,"v":0.98},{"t":1991.55,"v":1.02},{"t":1992.69,"v":1.02},{"t":1993.86,"v":1.04},{"t":1995,"v":1.08},{"t":1995.69,"v":1.10},{"t":1996.83,"v":1.11},{"t":1998,"v":1.11},{"t":1999.14,"v":1.11},{"t":2000.28,"v":1.11},{"t":2001.45,"v":1.12},{"t":2002.59,"v":1.13},{"t":2003.72,"v":1.15},{"t":2004.9,"v":1.18},{"t":2005.79,"v":1.20},{"t":2006.14,"v":1.23},{"t":2006.83,"v":1.32},{"t":2007.86,"v":1.46},{"t":2008.69,"v":1.57},{"t":2009.48,"v":1.60},{"t":2010.41,"v":1.72},{"t":2011.55,"v":1.93},{"t":2012.69,"v":2.08},{"t":2013.86,"v":2.20},{"t":2014.76,"v":2.31},{"t":2015.79,"v":2.42}],
"orange":[{"t":1973.62,"v":1.02},{"t":1973.97,"v":1.24},{"t":1974.31,"v":1.34},{"t":1974.59,"v":1.21},{"t":1974.83,"v":0.98},{"t":1975.07,"v":0.82},{"t":1975.69,"v":0.77},{"t":1976.21,"v":0.80},{"t":1977.07,"v":0.86},{"t":1977.76,"v":0.77},{"t":1978.62,"v":0.82},{"t":1979.14,"v":1.02},{"t":1979.66,"v":1.24},{"t":1980.17,"v":1.26},{"t":1980.69,"v":1.21},{"t":1981.38,"v":1.13},{"t":1981.9,"v":0.98},{"t":1982.59,"v":0.82},{"t":1983.28,"v":0.88},{"t":1983.97,"v":0.92},{"t":1984.66,"v":0.82},{"t":1985.69,"v":0.77},{"t":1987.41,"v":0.80},{"t":1987.93,"v":1.09},{"t":1988.45,"v":1.17},{"t":1988.97,"v":1.40},{"t":1989.48,"v":1.40},{"t":1990.17,"v":1.36},{"t":1990.86,"v":1.40},{"t":1991.55,"v":1.28},{"t":1992.59,"v":1.21},{"t":1993.62,"v":1.17},{"t":1994.31,"v":1.02},{"t":1994.83,"v":1.24},{"t":1995.34,"v":1.55},{"t":1996.03,"v":1.47},{"t":1996.55,"v":1.17},{"t":1997.07,"v":1.17},{"t":1997.76,"v":1.36},{"t":1998.45,"v":1.09},{"t":1999.31,"v":0.86},{"t":1999.83,"v":0.98},{"t":2000.69,"v":1.05},{"t":2001.21,"v":1.02},{"t":2001.9,"v":0.82},{"t":2002.93,"v":0.94},{"t":2003.79,"v":1.05},{"t":2004.14,"v":1.32},{"t":2004.66,"v":1.59},{"t":2005.52,"v":1.78},{"t":2006.03,"v":2.24},{"t":2006.38,"v":2.92},{"t":2006.55,"v":3.46},{"t":2007.24,"v":3.61},{"t":2007.76,"v":3.50},{"t":2008.28,"v":3.84},{"t":2008.55,"v":3.92},{"t":2008.97,"v":2.92},{"t":2009.24,"v":1.85},{"t":2009.72,"v":2.72},{"t":2010.28,"v":3.31},{"t":2010.86,"v":3.89},{"t":2011.1,"v":4.15},{"t":2011.55,"v":4.37},{"t":2011.79,"v":4.05},{"t":2012.14,"v":3.63},{"t":2012.69,"v":3.71},{"t":2013.17,"v":3.48},{"t":2013.72,"v":3.31},{"t":2014.41,"v":3.21},{"t":2015,"v":2.95},{"t":2015.79,"v":2.41}],
"trend":[{"s":"a","t":2008.31,"v":4.443},{"s":"a","t":2014.17,"v":1.992},{"s":"b","t":2011.10,"v":4.702},{"s":"b","t":2016.2,"v":2.565},{"s":"c","t":1999.55,"v":0.534},{"s":"c","t":2016.2,"v":2.198}],
"level":[{"t":1973.62,"v":1.5779},{"t":2016.2,"v":1.5779}],
"tags":[{"s":"upper","label":"3,3783","pos":3.382,"a":2016.2,"b":2016.34,"x2":2017.4},{"s":"blue","label":"3,2594","pos":3.26,"a":2016.2,"b":2016.34,"x2":2017.4},{"s":"pink","label":"3,1382","pos":3.137,"a":2016.2,"b":2016.34,"x2":2017.4},{"s":"mid","label":"2,7439","pos":2.786,"a":2016.2,"b":2016.34,"x2":2017.4},{"s":"darkred","label":"2,7439","pos":2.70,"a":2016.2,"b":2016.34,"x2":2017.4},{"s":"green","label":"2,5566","pos":2.55,"a":2016.2,"b":2016.34,"x2":2017.4},{"s":"red","label":"2,4223","pos":2.45,"a":2016.2,"b":2016.34,"x2":2017.4},{"s":"orange","label":"2,4082","pos":2.366,"a":2016.2,"b":2016.34,"x2":2017.4},{"s":"last","label":"2,1650","pos":2.176,"a":2016.2,"b":2016.34,"x2":2017.4},{"s":"lower","label":"2,1094","pos":2.092,"a":2016.2,"b":2016.34,"x2":2017.4}],
"notes":[{"txt":"1,5779","t":1973.66,"v":1.615}],
"notesC":[{"txt":"© ProRealTime.com","t":1973.64,"v":0.565}],
"notesI":[{"txt":"Données en fin de journée","t":1976.38,"v":0.565}],
"panel":[{"t":1973.62,"t2":1975.75,"v":5.075}],
"prix":[{"txt":"Prix","t":1973.69,"v":5.075}],
"wrench":[{"t":1974.48,"v":5.075}],
"btn":[{"t":1974.9,"v":5.075,"g":"+"},{"t":1975.45,"v":5.075,"g":"−"}],
"edge":[{"t":1973.62,"t2":2017.95,"v":0.408}]
},
"encoding":{"x":{"field":"t","type":"quantitative","title":null,"scale":{"domain":[1973.62,2016.2],"nice":false,"zero":false},"axis":{"values":[1974,1976,1978,1980,1982,1984,1986,1988,1990,1992,1994,1996,1998,2000,2002,2004,2006,2008,2010,2012,2014],"format":"d","grid":false,"labelFont":"Liberation Sans","labelFontSize":10.5,"labelColor":"#333333","tickColor":"#6b7683","tickSize":3,"domainColor":"#a9b6c4","labelPadding":1,"labelOverlap":false,"labelFlush":false}}},
"layer":[
{"data":{"name":"band"},"mark":{"type":"area","clip":true,"interpolate":"monotone","fill":{"gradient":"linear","x1":0,"y1":0,"x2":0,"y2":1,"stops":[{"offset":0,"color":"#a85ed2"},{"offset":0.5,"color":"#bb8ae2"},{"offset":1,"color":"#cbb7ee"}]}},"encoding":{"y":{"field":"up","type":"quantitative","title":null,"scale":{"domain":[0.527,5.13],"nice":false,"zero":false},"axis":{"orient":"right","values":[1,1.5,2,2.5,3,3.5,4,4.5,5],"labelExpr":"datum.value==2.5?'':replace(format(datum.value,'.1~f'),'.',',')","grid":false,"labelFont":"Liberation Sans","labelFontSize":10.5,"labelColor":"#333333","tickColor":"#6b7683","tickSize":4,"domainColor":"#a9b6c4","labelPadding":2,"labelOverlap":false,"labelFlush":false}},"y2":{"field":"lo"}}},
{"data":{"name":"band"},"mark":{"type":"line","clip":true,"interpolate":"monotone","color":"#9a4cc6","strokeWidth":1},"encoding":{"y":{"field":"up","type":"quantitative","scale":{"domain":[0.527,5.13],"nice":false,"zero":false}}}},
{"data":{"name":"band"},"mark":{"type":"line","clip":true,"interpolate":"monotone","color":"#9a4cc6","strokeWidth":1},"encoding":{"y":{"field":"lo","type":"quantitative","scale":{"domain":[0.527,5.13],"nice":false,"zero":false}}}},
{"data":{"name":"candles"},"mark":{"type":"rule","clip":true,"color":"#2e2e2e","strokeWidth":1.1,"opacity":0.85},"encoding":{"y":{"field":"l","type":"quantitative","scale":{"domain":[0.527,5.13],"nice":false,"zero":false}},"y2":{"field":"h"}}},
{"data":{"name":"candles"},"mark":{"type":"bar","clip":true,"orient":"vertical","size":2.6,"stroke":"#0c0c0c","strokeWidth":1},"encoding":{"y":{"field":"o","type":"quantitative","scale":{"domain":[0.527,5.13],"nice":false,"zero":false}},"y2":{"field":"c"},"fill":{"condition":{"test":"datum.c>=datum.o","value":"#2f8f3c"},"value":"#a85a3a"}}},
{"data":{"name":"orange"},"mark":{"type":"line","clip":true,"interpolate":"monotone","color":"#f09060","strokeWidth":1.2,"strokeDash":[2,4]},"encoding":{"y":{"field":"v","type":"quantitative","scale":{"domain":[0.527,5.13],"nice":false,"zero":false}}}},
{"data":{"name":"pink"},"mark":{"type":"line","clip":true,"interpolate":"monotone","color":"#f0388f","strokeWidth":1.1},"encoding":{"y":{"field":"v","type":"quantitative","scale":{"domain":[0.527,5.13],"nice":false,"zero":false}}}},
{"data":{"name":"darkred"},"mark":{"type":"line","clip":true,"interpolate":"monotone","color":"#9c2a35","strokeWidth":1.1},"encoding":{"y":{"field":"v","type":"quantitative","scale":{"domain":[0.527,5.13],"nice":false,"zero":false}}}},
{"data":{"name":"green"},"mark":{"type":"line","clip":true,"interpolate":"monotone","color":"#2f9440","strokeWidth":1.1},"encoding":{"y":{"field":"v","type":"quantitative","scale":{"domain":[0.527,5.13],"nice":false,"zero":false}}}},
{"data":{"name":"red"},"mark":{"type":"line","clip":true,"interpolate":"monotone","color":"#f5203c","strokeWidth":2},"encoding":{"y":{"field":"v","type":"quantitative","scale":{"domain":[0.527,5.13],"nice":false,"zero":false}}}},
{"data":{"name":"blue"},"mark":{"type":"line","clip":true,"interpolate":"monotone","color":"#1616ee","strokeWidth":2},"encoding":{"y":{"field":"v","type":"quantitative","scale":{"domain":[0.527,5.13],"nice":false,"zero":false}}}},
{"data":{"name":"level"},"mark":{"type":"line","clip":true,"color":"#ff0a0a","strokeWidth":3},"encoding":{"y":{"field":"v","type":"quantitative","scale":{"domain":[0.527,5.13],"nice":false,"zero":false}}}},
{"data":{"name":"trend"},"mark":{"type":"line","clip":true,"color":"#0a0af0","strokeWidth":3.2},"encoding":{"detail":{"field":"s"},"y":{"field":"v","type":"quantitative","scale":{"domain":[0.527,5.13],"nice":false,"zero":false}}}},
{"data":{"name":"edge"},"mark":{"type":"rule","color":"#aebccb","strokeWidth":2},"encoding":{"x2":{"field":"t2"},"y":{"field":"v","type":"quantitative","scale":{"domain":[0.527,5.13],"nice":false,"zero":false}}}},
{"data":{"name":"tags"},"mark":{"type":"rule","strokeWidth":1},"encoding":{"x":{"field":"a","type":"quantitative"},"x2":{"field":"b"},"y":{"field":"pos","type":"quantitative","scale":{"domain":[0.527,5.13],"nice":false,"zero":false}},"color":{"field":"s","type":"nominal","legend":null,"scale":{"domain":["upper","blue","pink","mid","darkred","green","red","orange","last","lower"],"range":["#a040d0","#2a2af0","#f0308f","#9040e0","#a03030","#2f9a3f","#f0203f","#f09070","#111111","#a040d0"]}}}},
{"data":{"name":"tags"},"mark":{"type":"bar","orient":"horizontal","size":11,"stroke":"#a2b0c0","strokeWidth":1.5},"encoding":{"x":{"field":"b","type":"quantitative"},"x2":{"field":"x2"},"y":{"field":"pos","type":"quantitative","scale":{"domain":[0.527,5.13],"nice":false,"zero":false}},"fill":{"condition":{"test":"datum.s==='last'","value":"#f5c400"},"value":"#eef1fb"}}},
{"data":{"name":"tags"},"mark":{"type":"text","align":"left","baseline":"middle","dx":1.5,"font":"Liberation Sans","fontSize":10},"encoding":{"x":{"field":"b","type":"quantitative"},"y":{"field":"pos","type":"quantitative","scale":{"domain":[0.527,5.13],"nice":false,"zero":false}},"text":{"field":"label"},"color":{"field":"s","type":"nominal","legend":null,"scale":{"domain":["upper","blue","pink","mid","darkred","green","red","orange","last","lower"],"range":["#a040d0","#2a2af0","#f0308f","#9040e0","#a03030","#2f9a3f","#f0203f","#f09070","#111111","#a040d0"]}}}},
{"data":{"name":"notes"},"mark":{"type":"text","align":"left","baseline":"middle","font":"Liberation Sans","fontSize":9,"color":"#444444"},"encoding":{"y":{"field":"v","type":"quantitative","scale":{"domain":[0.527,5.13],"nice":false,"zero":false}},"text":{"field":"txt"}}},
{"data":{"name":"notesC"},"mark":{"type":"text","align":"left","baseline":"middle","font":"Liberation Sans","fontSize":8.4,"color":"#444444"},"encoding":{"y":{"field":"v","type":"quantitative","scale":{"domain":[0.527,5.13],"nice":false,"zero":false}},"text":{"field":"txt"}}},
{"data":{"name":"notesI"},"mark":{"type":"text","align":"left","baseline":"middle","font":"Liberation Sans","fontSize":9,"fontStyle":"italic","color":"#444444"},"encoding":{"y":{"field":"v","type":"quantitative","scale":{"domain":[0.527,5.13],"nice":false,"zero":false}},"text":{"field":"txt"}}},
{"data":{"name":"panel"},"mark":{"type":"bar","orient":"horizontal","size":13,"fill":"#c1d6e7","stroke":"#a3b6c6","strokeWidth":1},"encoding":{"x2":{"field":"t2"},"y":{"field":"v","type":"quantitative","scale":{"domain":[0.527,5.13],"nice":false,"zero":false}}}},
{"data":{"name":"prix"},"mark":{"type":"text","align":"left","baseline":"middle","font":"Liberation Sans","fontSize":9.5,"color":"#223344"},"encoding":{"y":{"field":"v","type":"quantitative","scale":{"domain":[0.527,5.13],"nice":false,"zero":false}},"text":{"field":"txt"}}},
{"data":{"name":"wrench"},"mark":{"type":"point","shape":"M-0.9,0.7 L-0.15,-0.05 A0.5,0.5 0 0 1 0.45,-0.8 L0.15,-0.45 L0.45,-0.15 L0.8,-0.45 A0.5,0.5 0 0 1 0.05,0.15 L-0.7,0.9 Z","size":130,"filled":true,"fill":"#ffffff","stroke":"#2a3440","strokeWidth":1,"opacity":1},"encoding":{"y":{"field":"v","type":"quantitative","scale":{"domain":[0.527,5.13],"nice":false,"zero":false}}}},
{"data":{"name":"btn"},"mark":{"type":"point","shape":"square","size":110,"filled":true,"fill":"#d6e2ec","stroke":"#a3b6c6","strokeWidth":1,"opacity":1},"encoding":{"y":{"field":"v","type":"quantitative","scale":{"domain":[0.527,5.13],"nice":false,"zero":false}}}},
{"data":{"name":"btn"},"mark":{"type":"text","align":"center","baseline":"middle","font":"Liberation Sans","fontSize":10,"color":"#8a98a6"},"encoding":{"y":{"field":"v","type":"quantitative","scale":{"domain":[0.527,5.13],"nice":false,"zero":false}},"text":{"field":"g"}}}
],
"config":{"scale":{"continuousPadding":0}}}
